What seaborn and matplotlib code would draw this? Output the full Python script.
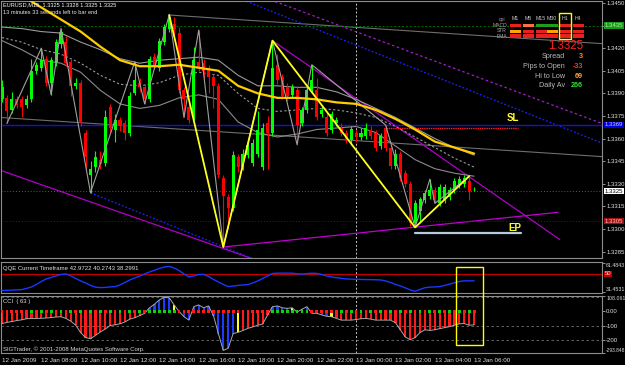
import numpy as np
import matplotlib
matplotlib.use("Agg")
import matplotlib.pyplot as plt
from matplotlib.patches import Rectangle
from matplotlib.transforms import blended_transform_factory
import seaborn as sns

# ---------------- data ----------------
opens = [1.3386, 1.3387, 1.3379, 1.3386, 1.3386, 1.3382, 1.3386, 1.3405, 1.3407, 1.3413,
         1.3397, 1.3410, 1.3423, 1.3424, 1.3411, 1.3395, 1.3397, 1.3364, 1.3336, 1.3341,
         1.3346, 1.3344, 1.3381, 1.3366, 1.3372, 1.3370, 1.3364, 1.3390, 1.3397, 1.3394,
         1.3386, 1.3414, 1.3407, 1.3424, 1.3433, 1.3436, 1.3430, 1.3392, 1.3381, 1.3374,
         1.3411, 1.3410, 1.3407, 1.3401, 1.3395, 1.3334, 1.3321, 1.3314, 1.3348, 1.3341,
         1.3349, 1.3344, 1.3350, 1.3341, 1.3370, 1.3364, 1.3409, 1.3401, 1.3394, 1.3389,
         1.3392, 1.3370, 1.3379, 1.3392, 1.3392, 1.3376, 1.3374, 1.3366, 1.3370, 1.3367,
         1.3364, 1.3359, 1.3364, 1.3361, 1.3362, 1.3366, 1.3364, 1.3355, 1.3367, 1.3354,
         1.3342, 1.3350, 1.3337, 1.3330, 1.3304, 1.3312, 1.3319, 1.3322, 1.3326, 1.3317,
         1.3319, 1.3321, 1.3326, 1.3329, 1.3330, 1.3332, 1.3325]
highs = [1.3399, 1.3389, 1.3391, 1.3388, 1.3388, 1.3389, 1.3413, 1.3411, 1.3420, 1.3415,
         1.3414, 1.3426, 1.3433, 1.3428, 1.3413, 1.3400, 1.3399, 1.3366, 1.3345, 1.3352,
         1.3352, 1.3379, 1.3383, 1.3376, 1.3374, 1.3372, 1.3391, 1.3411, 1.3400, 1.3396,
         1.3415, 1.3417, 1.3427, 1.3436, 1.3442, 1.3441, 1.3434, 1.3394, 1.3383, 1.3421,
         1.3432, 1.3413, 1.3409, 1.3403, 1.3397, 1.3336, 1.3323, 1.3352, 1.3350, 1.3353,
         1.3360, 1.3360, 1.3378, 1.3370, 1.3375, 1.3425, 1.3416, 1.3403, 1.3397, 1.3396,
         1.3394, 1.3381, 1.3394, 1.3409, 1.3400, 1.3382, 1.3377, 1.3378, 1.3374, 1.3370,
         1.3366, 1.3368, 1.3366, 1.3367, 1.3370, 1.3368, 1.3366, 1.3364, 1.3369, 1.3356,
         1.3353, 1.3352, 1.3339, 1.3332, 1.3319, 1.3321, 1.3326, 1.3333, 1.3328, 1.3330,
         1.3330, 1.3328, 1.3334, 1.3335, 1.3336, 1.3335, 1.3328]
lows = [1.3384, 1.3370, 1.3377, 1.3380, 1.3374, 1.3380, 1.3384, 1.3403, 1.3405, 1.3395,
        1.3389, 1.3408, 1.3420, 1.3408, 1.3388, 1.3393, 1.3368, 1.3340, 1.3324, 1.3338,
        1.3340, 1.3342, 1.3364, 1.3358, 1.3365, 1.3359, 1.3362, 1.3389, 1.3391, 1.3383,
        1.3384, 1.3406, 1.3405, 1.3422, 1.3431, 1.3428, 1.3390, 1.3374, 1.3370, 1.3372,
        1.3405, 1.3400, 1.3390, 1.3380, 1.3334, 1.3288, 1.3300, 1.3312, 1.3338, 1.3339,
        1.3347, 1.3342, 1.3348, 1.3339, 1.3340, 1.3362, 1.3396, 1.3386, 1.3385, 1.3387,
        1.3356, 1.3368, 1.3377, 1.3390, 1.3372, 1.3374, 1.3362, 1.3364, 1.3368, 1.3362,
        1.3357, 1.3356, 1.3358, 1.3359, 1.3360, 1.3360, 1.3352, 1.3353, 1.3352, 1.3340,
        1.3340, 1.3332, 1.3328, 1.3302, 1.3301, 1.3304, 1.3317, 1.3320, 1.3317, 1.3315,
        1.3317, 1.3319, 1.3324, 1.3327, 1.3328, 1.3319, 1.3325]
closes = [1.3394, 1.3378, 1.3386, 1.3382, 1.3381, 1.3386, 1.3405, 1.3409, 1.3412, 1.3397,
          1.3412, 1.3424, 1.3431, 1.3410, 1.3395, 1.3397, 1.3370, 1.3348, 1.3340, 1.3348,
          1.3343, 1.3374, 1.3367, 1.3372, 1.3368, 1.3364, 1.3388, 1.3399, 1.3394, 1.3386,
          1.3413, 1.3409, 1.3425, 1.3434, 1.3441, 1.3433, 1.3392, 1.3386, 1.3372, 1.3412,
          1.3407, 1.3405, 1.3401, 1.3395, 1.3336, 1.3322, 1.3314, 1.3349, 1.3341, 1.3350,
          1.3356, 1.3357, 1.3366, 1.3367, 1.3364, 1.3407, 1.3399, 1.3388, 1.3388, 1.3394,
          1.3369, 1.3379, 1.3392, 1.3399, 1.3374, 1.3379, 1.3364, 1.3376, 1.3372, 1.3364,
          1.3359, 1.3366, 1.3361, 1.3364, 1.3367, 1.3362, 1.3354, 1.3362, 1.3354, 1.3342,
          1.3350, 1.3334, 1.3330, 1.3304, 1.3317, 1.3320, 1.3324, 1.3326, 1.3319, 1.3328,
          1.3328, 1.3326, 1.3332, 1.3333, 1.3334, 1.3325, 1.3325]

band_bars = [0, 4, 8, 12, 16, 20, 24, 28, 32, 36, 40, 44, 48, 52, 56, 60, 64, 68, 72, 76, 80, 84, 88, 92, 96]
ma_yellow = [1.3463, 1.3455, 1.3447, 1.3439, 1.3431, 1.3421, 1.3412, 1.3408, 1.3408, 1.3409, 1.3407, 1.3405,
             1.3395, 1.3390, 1.3387, 1.3387, 1.3386, 1.3384, 1.3383, 1.3379, 1.3373, 1.3366, 1.3358, 1.3354, 1.3350]
band_upper = [1.3434, 1.3433, 1.3431, 1.3430, 1.3424, 1.3419, 1.3413, 1.3410, 1.3412, 1.3413, 1.3414, 1.3412,
              1.3402, 1.3395, 1.3395, 1.3394, 1.3394, 1.3391, 1.3386, 1.3380, 1.3374, 1.3367, 1.3360, 1.3354, 1.3349]
band_mid = [1.3427, 1.3424, 1.3419, 1.3416, 1.3410, 1.3402, 1.3396, 1.3395, 1.3397, 1.3402, 1.3404, 1.3402,
            1.3390, 1.3380, 1.3378, 1.3379, 1.3380, 1.3379, 1.3377, 1.3374, 1.3368, 1.3361, 1.3354, 1.3347, 1.3341]
band_lower = [1.3425, 1.3419, 1.3412, 1.3410, 1.3404, 1.3392, 1.3383, 1.3380, 1.3382, 1.3387, 1.3389, 1.3386,
              1.3371, 1.3364, 1.3361, 1.3363, 1.3366, 1.3367, 1.3368, 1.3364, 1.3355, 1.3346, 1.3340, 1.3337, 1.3335]

zz_yellow_bars = [34, 45, 55, 84, 95]
zz_yellow_price = [1.3442, 1.3288, 1.3425, 1.3301, 1.3335]
zz_gray_bars = [1, 8, 10, 12, 18, 27, 29, 34, 37, 40, 45, 55, 60, 63, 78, 84, 87, 88, 95]
zz_gray_price = [1.3370, 1.3420, 1.3389, 1.3433, 1.3324, 1.3411, 1.3383, 1.3442, 1.3374, 1.3432,
                 1.3288, 1.3425, 1.3356, 1.3409, 1.3369, 1.3301, 1.3333, 1.3317, 1.3335]

# trend lines: (bar0, price0, bar1, price1)
gray_trend_top = (34, 1.3442, 122, 1.3423)
gray_trend_low = (-0.4, 1.3374, 122, 1.3348)
purple_low_left = (-0.4, 1.3339, 52, 1.3279)
blue_dot_low = (18, 1.3324, 55, 1.3275)
blue_dot_high = (49, 1.3452, 122, 1.3357)
purple_dash_high = (55.5, 1.3451, 122, 1.3370)
purple_down = (55, 1.3425, 113.4, 1.3293)
purple_up = (45, 1.3288, 113, 1.3311)

blue_level = 1.3369
sl_level, sl_from, sl_to = 1.3367, 78, 105
ep_level, ep_from, ep_to = 1.3297, 84, 105.5
bid_level = 1.3325
green_level = 1.3435
red_level = 1.3305

price_ticks = [1.3450, 1.3435, 1.3420, 1.3405, 1.3390, 1.3375, 1.3360, 1.3345, 1.3330, 1.3315, 1.3300, 1.3285]

qqe = [33.4, 33.6, 33.8, 34.0, 34.3, 35.5, 37.0, 39.5, 42.5, 45.0, 46.5, 48.0, 49.5, 50.0, 48.0, 45.5,
       43.0, 41.0, 38.5, 36.8, 36.3, 36.5, 37.0, 37.3, 39.0, 41.5, 44.0, 46.0, 47.8, 50.0, 52.0, 53.7,
       55.5, 57.0, 57.6, 56.0, 53.5, 50.0, 47.0, 48.0, 49.5, 49.5, 47.5, 44.5, 42.0, 39.5, 37.3, 37.8,
       38.5, 39.0, 39.3, 41.0, 43.0, 45.5, 48.0, 50.5, 50.8, 50.8, 50.8, 50.8, 50.2, 49.9, 50.3, 50.8,
       50.5, 49.5, 48.0, 47.0, 46.3, 45.6, 45.0, 44.8, 44.6, 44.5, 44.4, 44.3, 44.2, 44.0, 43.0, 41.5,
       39.5, 38.0, 36.0, 34.0, 32.6, 34.5, 36.2, 36.8, 37.0, 37.3, 38.5, 39.8, 41.1, 42.5, 43.1, 43.1, 43.0]

cci = [-86, -78, -72, -65, -60, -52, -50, -50, -49, -47, -44, -40, -38, -50, -70, -98,
       -150, -185, -193, -170, -145, -125, -100, -95, -88, -75, -55, -45, -30, -14, 25, 50,
       81, 98, 95, 45, 0, -38, -62, 33, 45, 25, 38, -30, -157, -276, -260, -157,
       -148, -135, -120, -110, -98, -90, -26, 33, 38, 25, 21, 25, -5, 15, 33, -14,
       -14, -25, -35, -38, -50, -62, -62, -62, -58, -52, -50, -55, -62, -62, -62, -62,
       -80, -130, -181, -200, -185, -150, -130, -135, -130, -122, -115, -108, -98, -88, -86, -98, -95]
cci_bar_kind = ("r" * 30 + "bbbbby" + "rbb" + "bbbbb" + "bbbby" + "rrrrrr" +
                "bbbby" + "bbbbb" + "bby" + "r" * 29)
zero_dot_kind = ("rrrrrr" + "gr" * 12 + "gggggg" + "rrr" + "rrrrr" + "r" * 11 +
                 "gggggggg" + "rrrrrr" + "gr" * 14)

time_tick_bars = [0, 8, 16, 24, 32, 40, 48, 56, 64, 72, 80, 88, 96]
time_labels = ["12 Jan 2009", "12 Jan 08:00", "12 Jan 10:00", "12 Jan 12:00", "12 Jan 14:00",
               "12 Jan 16:00", "12 Jan 18:00", "12 Jan 20:00", "12 Jan 22:00", "13 Jan 00:00",
               "13 Jan 02:00", "13 Jan 04:00", "13 Jan 06:00"]
day_separator_bar = 72

tf_labels = ["M1", "M5", "M15", "M30", "H1", "H4"]
row_labels = ["MACD", "STR", "EMA"]
signal_colors = [["#e82020", "#ff7040", "#1e9e1e", "#1e9e1e", "#e82020", "#e82020"],
                 ["#ffa500", "#e82020", "#e82020", "#ffa500", "#e82020", "#e82020"],
                 ["#e82020"] * 6]
info_names = ["Spread", "Pips to Open", "Hi to Low", "Daily Av"]
info_values = ["3", "-33", "69", "266"]
info_colors = ["#ff8c1a", "#ff3030", "#ff9a40", "#30e030"]

# ---------------- style ----------------
sns.set_theme(style="dark")
plt.rcParams["font.family"] = ["Liberation Sans", "DejaVu Sans"]
W, H = 625, 365
GRAY = "#a8a8a8"
TXT = "#e0e0e0"
LBL = 4.3

def fx(x):
    return x / W

def fy(y):
    return 1 - y / H

fig = plt.figure(figsize=(6.25, 3.65), dpi=100, facecolor="black")
ax = fig.add_axes([fx(1), fy(258), fx(602) - fx(1), fy(1) - fy(258)])
axq = fig.add_axes([fx(1), fy(293), fx(602) - fx(1), fy(262) - fy(293)])
axc = fig.add_axes([fx(1), fy(353), fx(602) - fx(1), fy(296) - fy(353)])

for a in (ax, axq, axc):
    a.set_facecolor("black")
    a.grid(False)
    for s in a.spines.values():
        s.set_color("#8c8c8c")
        s.set_linewidth(0.8)
    a.set_xlim(-0.2, 122)
    a.axvline(day_separator_bar, color="#c8c8c8", lw=0.7, ls=(0, (2, 2)), zorder=1)

idx = np.arange(len(opens))
o, h, l, c = (np.array(v) for v in (opens, highs, lows, closes))

# ---------------- main price panel ----------------
ax.set_ylim(1.32807, 1.34513)

def tline(a, seg, **kw):
    b0, p0, b1, p1 = seg
    a.plot([b0, b1], [p0, p1], **kw)

tline(ax, gray_trend_top, color="#6e6e6e", lw=0.8, zorder=1)
tline(ax, gray_trend_low, color="#6e6e6e", lw=0.8, zorder=1)
tline(ax, purple_low_left, color="#b000c8", lw=0.9, zorder=1)
tline(ax, blue_dot_low, color="#2020ff", lw=0.9, ls=(0, (1.5, 1.5)), zorder=1)
tline(ax, blue_dot_high, color="#2020ff", lw=0.9, ls=(0, (1.5, 1.5)), zorder=1)
tline(ax, purple_dash_high, color="#a020c8", lw=0.9, ls=(0, (2, 2)), zorder=1)
tline(ax, purple_down, color="#b000c8", lw=0.9, zorder=1)
tline(ax, purple_up, color="#c000d0", lw=0.9, zorder=1)

ax.axhline(green_level, color="#006e00", lw=0.7, ls=(0, (2, 2)), zorder=1)
ax.axhline(bid_level, color="#5a5a5a", lw=0.7, ls=(0, (1, 2)), zorder=1)
ax.axhline(red_level, color="#6a1010", lw=0.7, ls=(0, (1, 2)), zorder=1)
ax.axhline(blue_level, color="#1010e0", lw=1.0, zorder=1)
ax.plot([sl_from, sl_to], [sl_level, sl_level], color="#ff2020", lw=1.0, ls=(0, (1, 0.6)), zorder=2)
ax.plot([ep_from, ep_to], [ep_level, ep_level], color="#b4ccdc", lw=1.6, zorder=2)

sns.lineplot(x=band_bars, y=band_upper, ax=ax, color="#9a9a9a", lw=0.8, zorder=1.5, legend=False)
ax.plot(band_bars, band_mid, color="#9a9a9a", lw=0.8, ls=(0, (2, 2)), zorder=1.5)
sns.lineplot(x=band_bars, y=band_lower, ax=ax, color="#8a8a8a", lw=0.8, zorder=1.5, legend=False)

col = np.where(c >= o, "#00ff00", "#ff0000")
ax.vlines(idx, l, h, colors=col, lw=0.8, zorder=2)
ax.bar(idx, np.maximum(np.abs(c - o), 0.00004), bottom=np.minimum(o, c), width=0.62,
       color=col, linewidth=0, zorder=2.1)

sns.lineplot(x=band_bars, y=ma_yellow, ax=ax, color="#ffcc00", lw=1.6, zorder=3, legend=False)
sns.lineplot(x=zz_gray_bars, y=zz_gray_price, ax=ax, color="#a0a0a0", lw=0.8, zorder=2.5, legend=False)
sns.lineplot(x=zz_yellow_bars, y=zz_yellow_price, ax=ax, color="#ffff20", lw=1.3, zorder=3.2, legend=False)

ax.set_xticks([])
ax.set_xlabel("")
ax.set_ylabel("")
ax.yaxis.tick_right()
ax.set_yticks(price_ticks)
ax.set_yticklabels(["" if abs(p - green_level) < 1e-6 else f"{p:.4f}" for p in price_ticks])
ax.tick_params(axis="y", colors=GRAY, labelcolor=TXT, labelsize=LBL, length=2, width=0.6, pad=1)

tr = blended_transform_factory(ax.transAxes, ax.transData)
for lvl, fc, tc in [(green_level, "#1a9a1a", "#a8f0a8"), (blue_level, "#0000e0", "#c8c8ff"),
                    (bid_level, "#ffffff", "#000000"), (red_level, "#a01010", "#ffc0c0")]:
    ax.text(1.0045, lvl, f"{lvl:.4f}", transform=tr, fontsize=LBL, color=tc, va="center", ha="left",
            bbox=dict(boxstyle="square,pad=0.1", fc=fc, ec="none"), clip_on=False, zorder=5)

# ---------------- QQE panel ----------------
axq.set_ylim(30.9, 62.0)
sns.lineplot(x=idx, y=qqe, ax=axq, color="#1838ff", lw=1.0, legend=False, zorder=3)
axq.axhline(50, color="#c00000", lw=0.9, zorder=2)
axq.set_xticks([])
axq.set_xlabel("")
axq.set_ylabel("")
axq.yaxis.tick_right()
axq.set_yticks([61.4843, 31.4531])
axq.set_yticklabels(["61.4843", "31.4531"])
axq.tick_params(axis="y", colors=GRAY, labelcolor=TXT, labelsize=3.8, length=2, width=0.6, pad=1)
qlabs = axq.get_yticklabels()
qlabs[0].set_va("top")
qlabs[1].set_va("bottom")
trq = blended_transform_factory(axq.transAxes, axq.transData)
axq.text(1.0045, 50, "50", transform=trq, fontsize=LBL, color="#ffd0d0", va="center", ha="left",
         bbox=dict(boxstyle="square,pad=0.1", fc="#c00000", ec="none"), clip_on=False)
axq.text(0.004, 0.8, "QQE Current Timeframe 42.9722 40.2743 38.2991", transform=axq.transAxes,
         fontsize=4.3, color=TXT, va="center", ha="left")

# ---------------- CCI panel ----------------
axc.set_ylim(-293.848, 108.061)
for lv in (100, -100, -200):
    axc.axhline(lv, color="#707070", lw=0.6, ls=(0, (3, 3)), zorder=1)
kind_color = {"r": "#ff1a1a", "b": "#1a3cff", "y": "#ffff20"}
axc.bar(idx, cci, width=0.45, color=[kind_color[k] for k in cci_bar_kind], linewidth=0, zorder=2)
sns.lineplot(x=idx, y=cci, ax=axc, color="#a8a8a8", lw=0.7, legend=False, zorder=3)
sns.scatterplot(x=idx, y=np.zeros(len(idx)), hue=list(zero_dot_kind), ax=axc,
                palette={"g": "#10d010", "r": "#ff1a1a"}, marker="s", s=4, linewidth=0,
                legend=False, zorder=4)
axc.set_xlabel("")
axc.set_ylabel("")
axc.yaxis.tick_right()
axc.set_yticks([108.061, 0, -100, -200, -293.848])
axc.set_yticklabels(["108.061", "0.00", "-100", "-200", "-293.848"])
axc.tick_params(axis="y", colors=GRAY, labelcolor=TXT, labelsize=LBL, length=2, width=0.6, pad=1)
clabs = axc.get_yticklabels()
clabs[0].set_va("top")
clabs[0].set_fontsize(3.8)
clabs[-1].set_va("bottom")
clabs[-1].set_fontsize(3.5)
axc.set_xticks(time_tick_bars)
axc.set_xticklabels(time_labels, ha="left")
axc.tick_params(axis="x", colors=GRAY, labelcolor=TXT, labelsize=4.5, length=2, width=0.6, pad=1.5)
axc.text(0.004, 0.9, "CCI  ( 63 )", transform=axc.transAxes, fontsize=4.3, color=TXT, va="center")
axc.text(0.004, 0.07, "SIGTrader, \u00a9 2001-2008 MetaQuotes Software Corp.", transform=axc.transAxes,
         fontsize=4.3, color="#d8d8d8", va="center")

# ---------------- overlay texts / dashboard ----------------
fig.text(fx(3), fy(5), "EURUSD,M15  1.3325 1.3328 1.3325 1.3325", fontsize=4.1, color="#ffffff", va="center")
fig.text(fx(3), fy(13), "13 minutes 33 seconds left to bar end", fontsize=4.1, color="#e8e8e8", va="center")

col_left = [510, 523, 536, 547, 560, 573]
row_top = [24, 29.5, 34.5]
fig.text(fx(505), fy(19), "cpi", fontsize=3.6, color="#a0a0a0", ha="right", va="center")
for j, lab in enumerate(tf_labels):
    fig.text(fx(col_left[j] + 5.2), fy(19), lab, fontsize=3.8, color="#c8c8c8", ha="center", va="center")
for i, rl in enumerate(row_labels):
    fig.text(fx(507), fy(row_top[i] + 1.5), rl, fontsize=3.6, color="#a8a8a8", ha="right", va="center")
    for j in range(len(tf_labels)):
        fig.add_artist(Rectangle((fx(col_left[j]), fy(row_top[i] + 3.3)), 10.5 / W, 3.3 / H,
                                 transform=fig.transFigure, fc=signal_colors[i][j], ec="none"))
fig.add_artist(Rectangle((fx(559), fy(39)), 12 / W, 26 / H, transform=fig.transFigure,
                         fill=False, ec="#ffff00", lw=1.0))

fig.text(fx(583), fy(46), "1.3325", fontsize=8.3, color="#ff2020", ha="right", va="center")
for k, (nm, val, vc) in enumerate(zip(info_names, info_values, info_colors)):
    yy = 57 + k * 9.5
    fig.text(fx(565), fy(yy), nm, fontsize=5.2, color="#b8b8b8", ha="right", va="center")
    fig.text(fx(583), fy(yy), val, fontsize=5.2, color=vc, ha="right", va="center", weight="bold")

fig.text(fx(507), fy(118), "SL", fontsize=7, color="#ffff30", weight="bold", va="center")
fig.text(fx(508), fy(228), "EP", fontsize=7, color="#ffff30", weight="bold", va="center")

fig.add_artist(Rectangle((fx(456), fy(345)), 27 / W, 78 / H, transform=fig.transFigure,
                         fill=False, ec="#ffff00", lw=1.0))

fig.savefig("out.png", dpi=100, facecolor="black")
